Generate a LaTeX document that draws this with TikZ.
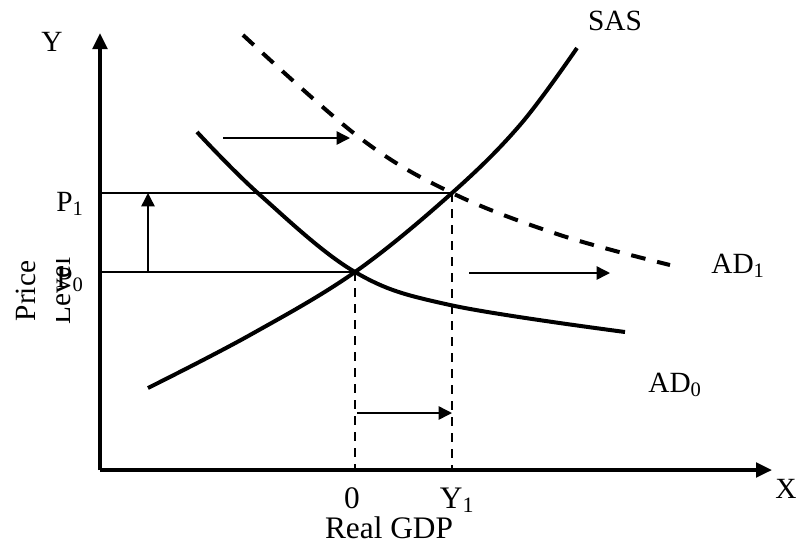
\documentclass[tikz,border=0pt]{standalone}
\usepackage{fontspec}
\setmainfont{Liberation Serif}
\usetikzlibrary{arrows.meta,positioning}

\begin{document}
\begin{tikzpicture}[
    x=0.75pt, y=-0.75pt,
    axis/.style={-{Triangle[length=12pt,width=11pt]}, line width=2.5pt},
    curve/.style={line width=3pt},
    shiftcurve/.style={line width=3pt, dash pattern=on 11pt off 9pt},
    guide/.style={line width=1.1pt},
    drop/.style={line width=2pt, dash pattern=on 6.5pt off 5.5pt},
    move/.style={-{Triangle[length=10pt,width=10pt]}, line width=1.1pt},
    lbl/.style={font=\fontsize{22}{26}\selectfont, inner sep=0pt},
    biglbl/.style={font=\fontsize{23.5}{27}\selectfont, inner sep=0pt}
]
    \useasboundingbox (0,0) rectangle (797,544);

    % Axes
    \coordinate (origin) at (100,470);
    \coordinate (ytop)   at (100,33);
    \coordinate (xend)   at (772,470);
    \draw[axis] (origin) -- (ytop);
    \draw[axis] (origin) -- (xend);

    % Equilibria
    \coordinate (eq0) at (355,272);
    \coordinate (eq1) at (452,193);
    \coordinate (p0)  at (100,272);
    \coordinate (p1)  at (100,193);
    \coordinate (y0)  at (355,470);
    \coordinate (y1)  at (452,470);

    % Curves
    \draw[curve] plot[smooth, tension=0.6] coordinates
        {(148,388) (250,335) (355,272) (452,193) (520,125) (577,48)};
    \draw[curve] plot[smooth, tension=0.6] coordinates
        {(197,132) (260,195) (355,272) (450,305) (625,332)};
    \draw[shiftcurve] plot[smooth, tension=0.6] coordinates
        {(243,35) (360,138) (452,193) (560,235) (670,265)};

    % Price and output guides
    \draw[guide] (p1) -- (eq1);
    \draw[guide] (p0) -- (eq0);
    \draw[drop] (eq0) -- (y0);
    \draw[drop] (eq1) -- (y1);

    % Shift arrows
    \coordinate (upfrom) at (148,272);
    \coordinate (upto)   at (148,193);
    \draw[move] (upfrom) -- (upto);
    \coordinate (adfrom) at (223,138);
    \coordinate (adto)   at (350,138);
    \draw[move] (adfrom) -- (adto);
    \coordinate (rtfrom) at (469,273);
    \coordinate (rtto)   at (610,273);
    \draw[move] (rtfrom) -- (rtto);
    \coordinate (gdpfrom) at (357,413);
    \coordinate (gdpto)   at (452,413);
    \draw[move] (gdpfrom) -- (gdpto);

    % Labels
    \node[lbl] (ylab)   at (52,42)   {Y};
    \node[lbl] (xlab)   at (786,489) {X};
    \node[lbl] (saslab) at (615,21)  {SAS};
    \node[lbl] (ad1lab) at (738,266) {AD\textsubscript{1}};
    \node[lbl] (ad0lab) at (675,385) {AD\textsubscript{0}};
    \node[lbl] (p1lab)  at (70,204)  {P\textsubscript{1}};
    \node[lbl] (p0lab)  at (70,280)  {P\textsubscript{0}};
    \node[biglbl, anchor=base] (zlab)  at (352,508) {0};
    \node[biglbl, anchor=base] (y1lab) at (457,508) {Y\textsubscript{1}};
    \node[biglbl, anchor=base] (gdplab) at (389,538) {Real GDP};

    % Axis title (second line cut by its box)
    \node[lbl, rotate=90] (pricelab) at (26,291) {Price};
    \begin{scope}
        \clip (56,250) rectangle (75,330);
        \node[lbl, rotate=90] (levellab) at (60,291) {Level};
    \end{scope}
\end{tikzpicture}
\end{document}
